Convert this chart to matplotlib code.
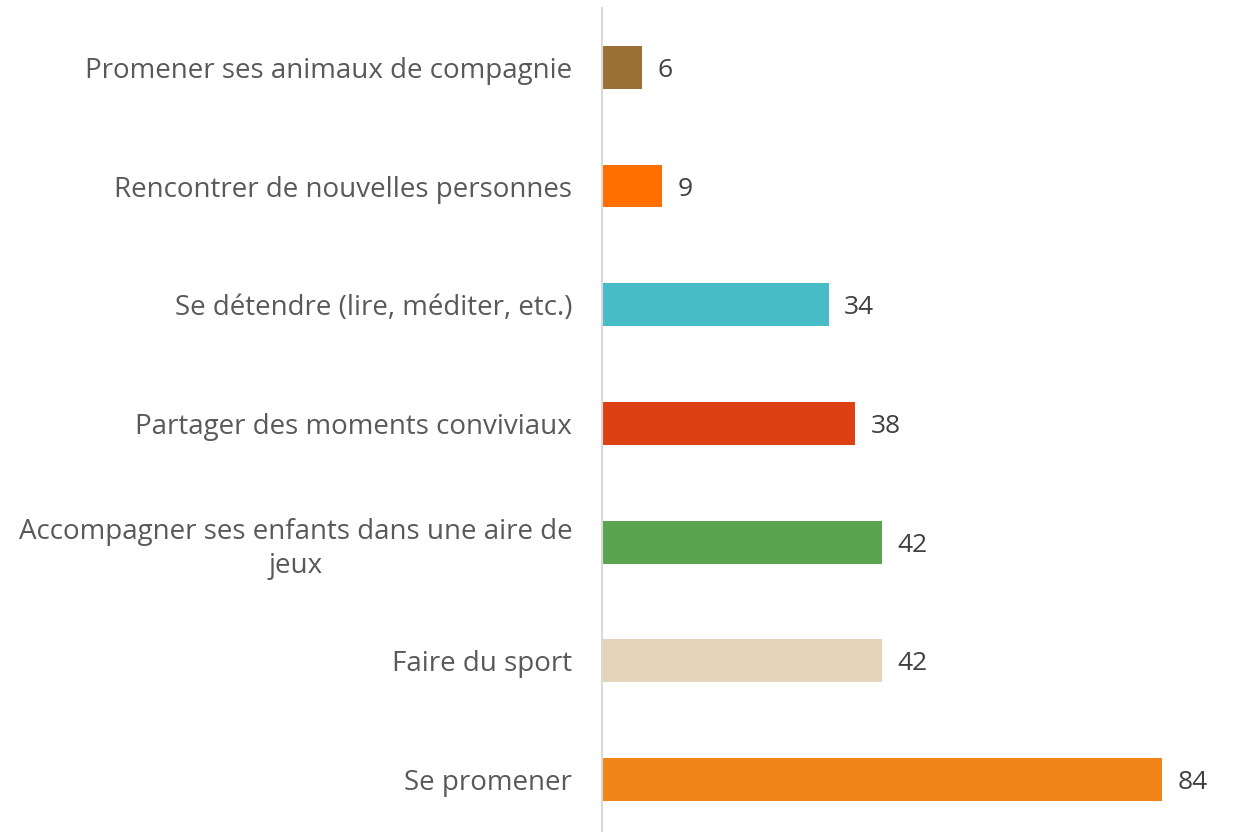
import matplotlib.pyplot as plt

categories = [
    "Se promener",
    "Faire du sport",
    "Accompagner ses enfants dans une aire de\njeux",
    "Partager des moments conviviaux",
    "Se détendre (lire, méditer, etc.)",
    "Rencontrer de nouvelles personnes",
    "Promener ses animaux de compagnie",
]
values = [84, 42, 42, 38, 34, 9, 6]
colors = ["#F28519", "#E3D4BA", "#5BA44F", "#DD4012", "#48BCC6", "#FF6F00", "#9A7036"]

W, H = 1233, 832
fig = plt.figure(figsize=(W / 100, H / 100), dpi=100)
plt.rcParams['font.family'] = ['Open Sans', 'DejaVu Sans']

# axes placed in pixels: y axis line at x=602, rows 118.7 px apart
left = 602 / W
top = 8 / H
row_h = 118.7
ax = fig.add_axes([left, 1 - top - 7 * row_h / H, (W - 602) / W, 7 * row_h / H])

ypos = list(range(len(categories)))
ax.barh(ypos, values, height=0.36, color=colors)
ax.set_ylim(-0.5, len(categories) - 0.5)
ax.set_xlim(0, (W - 602) / 6.667)

for y, v in zip(ypos, values):
    ax.text(v + 2.3, y, str(v), va='center_baseline', ha='left', fontsize=19, color='#404040')

ax.set_yticks(ypos)
ax.set_yticklabels(categories, fontsize=20, color='#595959', ha='right',
                   multialignment='center', linespacing=1.3)
ax.tick_params(axis='y', length=0, pad=21.5)
ax.set_xticks([])
for s in ['top', 'right', 'bottom']:
    ax.spines[s].set_visible(False)
ax.spines['left'].set_color('#D9D9D9')
ax.spines['left'].set_linewidth(1.5)

fig.savefig('out.png', dpi=100)
